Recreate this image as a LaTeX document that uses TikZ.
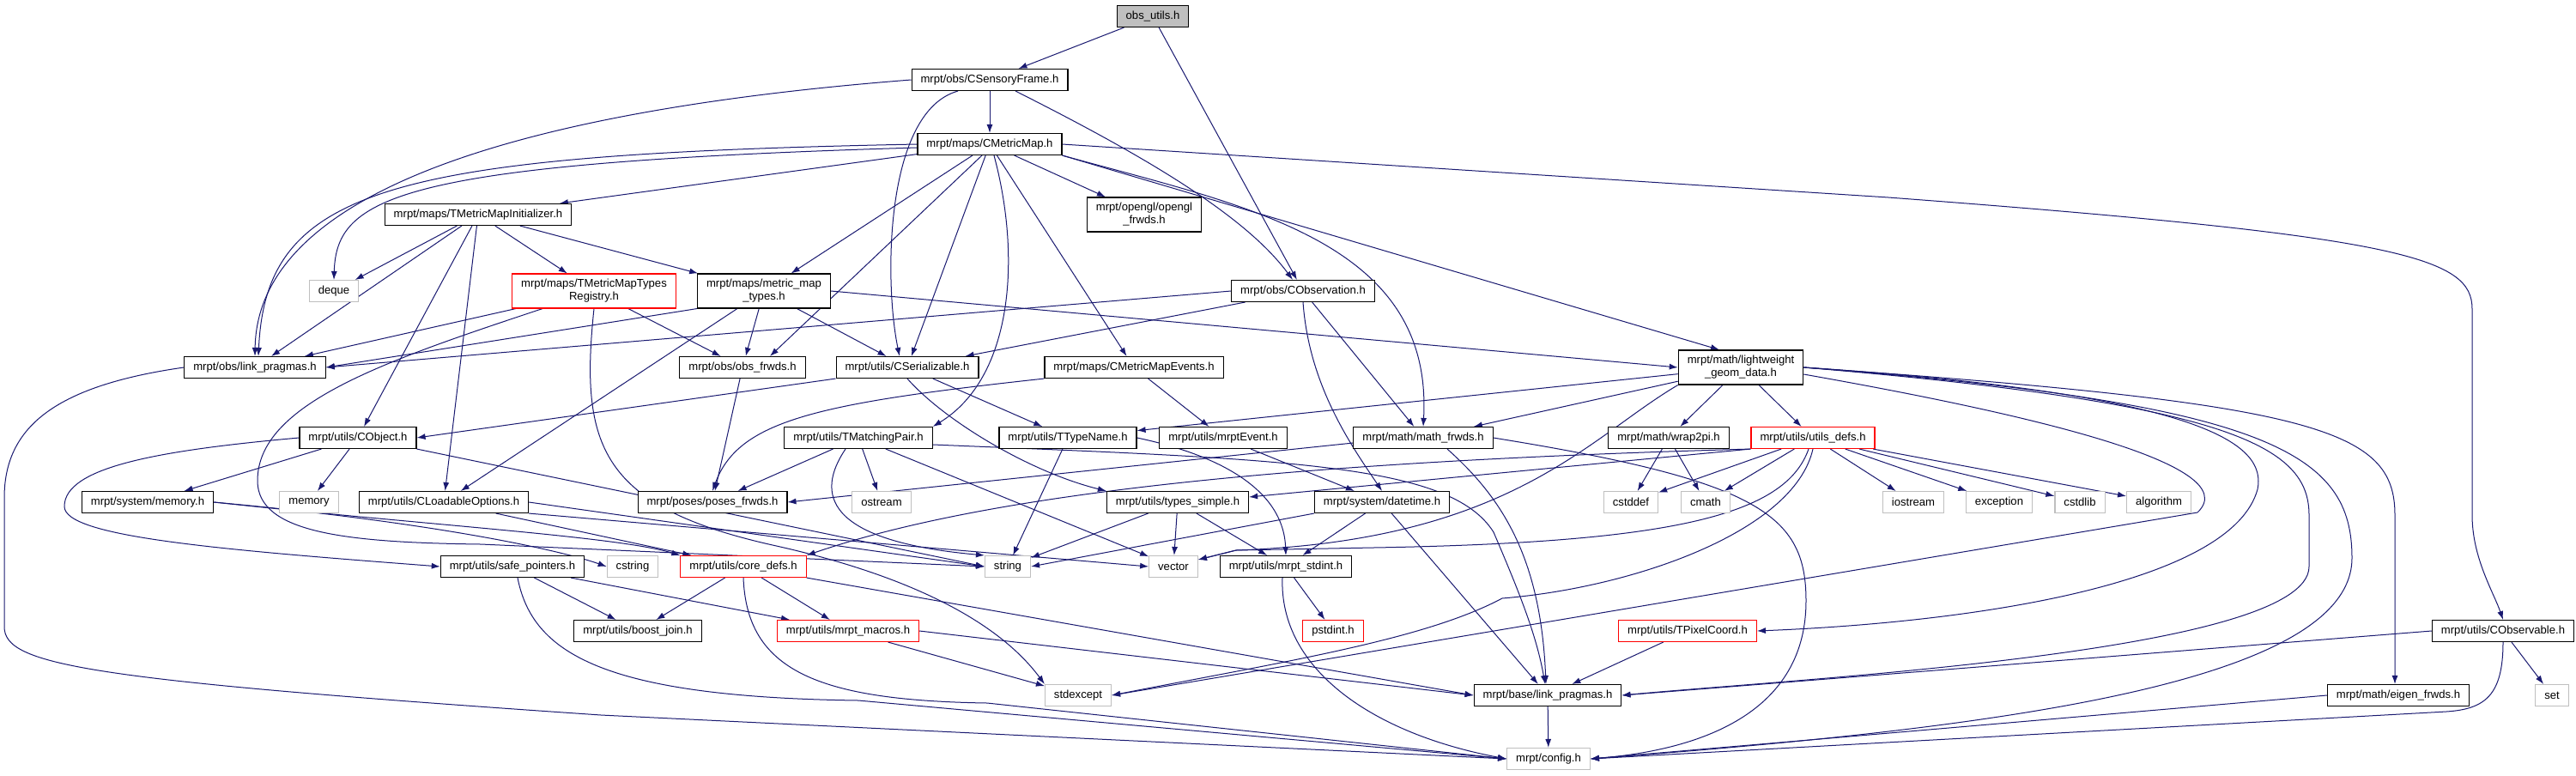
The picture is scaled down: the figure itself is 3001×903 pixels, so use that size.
\documentclass[tikz,border=0pt]{standalone}
\usepackage{fontspec}
\setmainfont{Liberation Sans}
\usetikzlibrary{arrows.meta}
\usetikzlibrary{backgrounds}
\definecolor{edgeblue}{HTML}{191970}
\definecolor{sysgray}{HTML}{BFBFBF}

\begin{document}
\begin{tikzpicture}[x=1pt,y=-1pt,
  hdr/.style={draw=black,line width=1.1pt,fill=white,font=\fontsize{13.1}{15}\selectfont,
    inner xsep=10.5pt,inner ysep=1pt,minimum height=25pt,align=center},
  twoline/.style={minimum height=40pt},
  sys/.style={hdr,draw=sysgray},
  cut/.style={hdr,draw=red},
  dep/.style={->,>={Latex[length=10pt,width=7pt]},draw=edgeblue,line width=1pt}]
\useasboundingbox (0,0) rectangle (3001,903);

% headers, row by row
\node[hdr,fill=sysgray] (obsutils) at (1343,19) {obs\_utils.h};
\node[hdr] (sframe) at (1153,93) {mrpt/obs/CSensoryFrame.h};
\node[hdr] (metricmap) at (1153,168) {mrpt/maps/CMetricMap.h};
\node[hdr] (mapinit) at (557,250) {mrpt/maps/TMetricMapInitializer.h};
\node[hdr,twoline] (glfrwds) at (1333,250) {mrpt/opengl/opengl\\\_frwds.h};
\node[sys] (deque) at (389,339) {deque};
\node[cut,twoline] (registry) at (692,339) {mrpt/maps/TMetricMapTypes\\Registry.h};
\node[hdr,twoline] (maptypes) at (890,339) {mrpt/maps/metric\_map\\\_types.h};
\node[hdr] (observation) at (1518,339) {mrpt/obs/CObservation.h};
\node[hdr] (obspragmas) at (297,428) {mrpt/obs/link\_pragmas.h};
\node[hdr] (obsfrwds) at (865,428) {mrpt/obs/obs\_frwds.h};
\node[hdr] (serializable) at (1057,428) {mrpt/utils/CSerializable.h};
\node[hdr] (mapevents) at (1321,428) {mrpt/maps/CMetricMapEvents.h};
\node[hdr,twoline] (geomdata) at (2028,428) {mrpt/math/lightweight\\\_geom\_data.h};
\node[hdr] (object) at (417,510) {mrpt/utils/CObject.h};
\node[hdr] (matching) at (1000,510) {mrpt/utils/TMatchingPair.h};
\node[hdr] (typename) at (1244,510) {mrpt/utils/TTypeName.h};
\node[hdr] (event) at (1425,510) {mrpt/utils/mrptEvent.h};
\node[hdr] (mathfrwds) at (1658,510) {mrpt/math/math\_frwds.h};
\node[hdr] (wrap) at (1944,510) {mrpt/math/wrap2pi.h};
\node[cut] (utilsdefs) at (2112,510) {mrpt/utils/utils\_defs.h};
\node[hdr] (sysmemory) at (172,585) {mrpt/system/memory.h};
\node[sys] (memory) at (360,585) {memory};
\node[hdr] (loadable) at (517,585) {mrpt/utils/CLoadableOptions.h};
\node[hdr] (posesfrwds) at (830,585) {mrpt/poses/poses\_frwds.h};
\node[sys] (ostream) at (1027,585) {ostream};
\node[hdr] (typessimple) at (1372,585) {mrpt/utils/types\_simple.h};
\node[hdr] (datetime) at (1610,585) {mrpt/system/datetime.h};
\node[sys] (cstddef) at (1900,585) {cstddef};
\node[sys] (cmath) at (1987,585) {cmath};
\node[sys] (iostream) at (2229,585) {iostream};
\node[sys] (exception) at (2329,585) {exception};
\node[sys] (cstdlib) at (2423,585) {cstdlib};
\node[sys] (algorithm) at (2515,585) {algorithm};
\node[hdr] (safeptr) at (597,660) {mrpt/utils/safe\_pointers.h};
\node[sys] (cstring) at (737,660) {cstring};
\node[cut] (coredefs) at (866,660) {mrpt/utils/core\_defs.h};
\node[sys] (string) at (1174,660) {string};
\node[sys] (vector) at (1367,660) {vector};
\node[hdr] (stdint) at (1498,660) {mrpt/utils/mrpt\_stdint.h};
\node[hdr] (boostjoin) at (743,735) {mrpt/utils/boost\_join.h};
\node[cut] (macros) at (988,735) {mrpt/utils/mrpt\_macros.h};
\node[cut] (pstdint) at (1553,735) {pstdint.h};
\node[cut] (pixel) at (1966,735) {mrpt/utils/TPixelCoord.h};
\node[hdr] (observable) at (2916,735) {mrpt/utils/CObservable.h};
\node[sys] (stdexcept) at (1256,810) {stdexcept};
\node[hdr] (basepragmas) at (1803,810) {mrpt/base/link\_pragmas.h};
\node[hdr] (eigen) at (2794,810) {mrpt/math/eigen\_frwds.h};
\node[sys] (set) at (2973,810) {set};
\node[sys] (config) at (1804,884) {mrpt/config.h};

\begin{scope}[on background layer]
\fill[white] (0,0) rectangle (3001,903);
% top of the graph
\draw[dep] (obsutils) -- (sframe);
\draw[dep] (obsutils) -- (observation);
\draw[dep] (sframe) -- (metricmap);
\draw[dep] (sframe.west) .. controls (650,125) and (300,210) .. (obspragmas.north);
\draw[dep] ([xshift=-37pt]sframe.south) .. controls (1030,130) and (1030,330) .. ([xshift=-9pt]serializable.north);
\draw[dep] ([xshift=30pt]sframe.south) .. controls (1330,180) and (1450,250) .. ([xshift=-12pt]observation.north);
\draw[dep] (metricmap.west) .. controls (450,180) and (310,220) .. ([xshift=4pt]obspragmas.north);
\draw[dep] ([yshift=-4pt]metricmap.west) .. controls (460,190) and (392,230) .. (deque.north);
\draw[dep] (metricmap) -- (mapinit);
\draw[dep] (metricmap) -- (maptypes);
\draw[dep] ([xshift=-9pt]metricmap.south) -- ([xshift=32pt]obsfrwds.north);
\draw[dep] (metricmap) -- (serializable);
\draw[dep] (metricmap) -- (mapevents);
\draw[dep] (metricmap) -- (glfrwds);
\draw[dep] (metricmap.south east) -- ([xshift=-25pt]geomdata.north);
\draw[dep] ([xshift=5pt]metricmap.south) .. controls (1190,300) and (1180,440) .. (matching.north east);
\draw[dep] (metricmap.south east) .. controls (1450,240) and (1670,280) .. (mathfrwds.north);
\draw[dep] (metricmap.east) -- (2200,230) .. controls (2800,275) and (2880,300) .. (2880,360)
  -- (2880,600) .. controls (2880,650) and (2905,690) .. (observable.north);
\draw[dep] (mapinit) -- (deque);
\draw[dep] (mapinit) -- (obspragmas);
\draw[dep] (mapinit) -- (object);
\draw[dep] (mapinit) -- (loadable);
\draw[dep] (mapinit) -- (registry);
\draw[dep] (mapinit) -- (maptypes);
\draw[dep] (registry) -- (obspragmas);
\draw[dep] (registry) -- (obsfrwds);
\draw[dep] ([xshift=-60pt]registry.south) .. controls (450,420) and (300,470) .. (300,560)
  .. controls (300,620) and (400,632) .. (560,634) -- (string.west);
\draw[dep] (registry.south) .. controls (675,520) and (700,590) .. (900,635)
  .. controls (1050,668) and (1160,720) .. (stdexcept.north west);
\draw[dep] (maptypes.south west) -- (obspragmas.east);
\draw[dep] (maptypes) -- (obsfrwds);
\draw[dep] (maptypes) -- (serializable);
\draw[dep] (maptypes.east) -- (geomdata.west);
\draw[dep] (maptypes) -- (loadable);
\draw[dep] (observation.west) -- (obspragmas.east);
\draw[dep] (observation) -- (serializable);
\draw[dep] (observation) -- (mathfrwds);
\draw[dep] (observation.south) .. controls (1525,450) and (1575,520) .. (datetime.north);
\draw[dep] (serializable.south west) -- (object.east);
\draw[dep] (serializable) -- (typename);
\draw[dep] (serializable.south) .. controls (1100,490) and (1200,550) .. (typessimple.north west);
\draw[dep] (mapevents.south west) .. controls (950,470) and (860,490) .. (posesfrwds.north);
\draw[dep] (mapevents) -- (event);
\draw[dep] (obsfrwds) -- (posesfrwds);
% lightweight_geom_data
\draw[dep] (geomdata) -- (typename);
\draw[dep] (geomdata) -- (mathfrwds);
\draw[dep] (geomdata) -- (wrap);
\draw[dep] (geomdata) -- (utilsdefs);
\draw[dep] (geomdata.south west) .. controls (1850,510) and (1760,630) .. (1440,641) -- ([yshift=8pt]vector.east);
\draw[dep] (geomdata.east) .. controls (2700,470) and (2790,500) .. (2790,600) -- ([xshift=-4pt]eigen.north);
\draw[dep] (geomdata.east) .. controls (2650,470) and (2740,530) .. (2740,650)
  .. controls (2740,800) and (2300,850) .. (config.east);
\draw[dep] (geomdata.east) .. controls (2600,470) and (2690,520) .. (2690,600)
  -- (2690,660) .. controls (2690,760) and (2100,790) .. (basepragmas.east);
\draw[dep] (geomdata.east) .. controls (2580,460) and (2640,520) .. (2630,570)
  .. controls (2600,680) and (2300,725) .. (pixel.east);
\draw[dep] ([yshift=-8pt]geomdata.east) .. controls (2350,480) and (2620,540) .. (2560,597) -- (stdexcept.east);
% utils_defs
\draw[dep] (utilsdefs) -- (cstddef);
\draw[dep] (utilsdefs) -- (cmath);
\draw[dep] (utilsdefs) -- (iostream);
\draw[dep] (utilsdefs) -- (exception);
\draw[dep] (utilsdefs) -- (cstdlib);
\draw[dep] (utilsdefs) -- (algorithm);
\draw[dep] (utilsdefs.south) .. controls (2090,620) and (1900,685) .. (1750,697)
  .. controls (1660,745) and (1500,770) .. (stdexcept.east);
\draw[dep] ([xshift=-5pt]utilsdefs.south) .. controls (2080,600) and (1950,632) .. (1600,638)
  -- (1440,641) -- ([yshift=8pt]vector.east);
\draw[dep] (utilsdefs.south west) -- ([yshift=6pt]typessimple.east);
\draw[dep] (utilsdefs.south west) .. controls (1500,538) and (1150,575) .. (coredefs.north east);
\draw[dep] (wrap) -- (cstddef);
\draw[dep] (wrap) -- (cmath);
% math_frwds, TTypeName, TMatchingPair
\draw[dep] ([yshift=-6pt]mathfrwds.west) -- (posesfrwds.east);
\draw[dep] ([xshift=28pt]mathfrwds.south) .. controls (1750,580) and (1795,650) .. ([xshift=-2pt]basepragmas.north);
\draw[dep] (mathfrwds.east) .. controls (2050,560) and (2104,600) .. (2104,700)
  .. controls (2104,820) and (2000,872) .. (config.east);
\draw[dep] (typename) -- (string);
\draw[dep] (typename.east) .. controls (1420,530) and (1495,570) .. (stdint.north);
\draw[dep] (matching) -- (posesfrwds);
\draw[dep] (matching) -- (ostream);
\draw[dep] (matching) -- (vector);
\draw[dep] ([xshift=-15pt]matching.south) .. controls (950,575) and (960,630) .. (string.north west);
\draw[dep] ([yshift=-8pt]matching.east) .. controls (1500,535) and (1690,540) .. (1740,620)
  .. controls (1770,690) and (1790,740) .. ([xshift=-3pt]basepragmas.north);
\draw[dep] (event) -- (datetime);
\draw[dep] (datetime) -- (basepragmas);
\draw[dep] (datetime) -- (stdint);
\draw[dep] (datetime.south west) -- (string.east);
\draw[dep] (typessimple) -- (string);
\draw[dep] (typessimple) -- (vector);
\draw[dep] (typessimple) -- (stdint);
\draw[dep] (stdint) -- (pstdint);
\draw[dep] ([xshift=-4pt]stdint.south) .. controls (1490,780) and (1600,855) .. (config.west);
% left part
\draw[dep] (object) -- (sysmemory);
\draw[dep] (object) -- (memory);
\draw[dep] (object.west) .. controls (180,525) and (75,545) .. (75,590)
  .. controls (75,625) and (250,640) .. (safeptr.west);
\draw[dep] (object.south east) -- (string.west);
\draw[dep] (sysmemory.east) .. controls (500,608) and (650,640) .. (cstring.west);
\draw[dep] (sysmemory.east) .. controls (500,612) and (720,625) .. (coredefs.north west);
\draw[dep] (loadable) -- (coredefs);
\draw[dep] (loadable.east) -- (string.west);
\draw[dep] (loadable.south east) -- (vector.west);
\draw[dep] (safeptr) -- (boostjoin);
\draw[dep] (safeptr) -- (macros);
\draw[dep] ([xshift=6pt]safeptr.south) .. controls (620,760) and (700,812) .. (1000,816) -- (config.west);
\draw[dep] (coredefs) -- (boostjoin);
\draw[dep] (coredefs) -- (macros);
\draw[dep] (coredefs.south east) -- (basepragmas.west);
\draw[dep] (coredefs.south) .. controls (870,780) and (950,816) .. (1150,819) -- (config.west);
\draw[dep] (macros) -- (stdexcept);
\draw[dep] (macros.east) -- (basepragmas.west);
\draw[dep] (obspragmas.west) .. controls (60,450) and (5,500) .. (5,580) -- (5,730)
  .. controls (5,775) and (100,792) .. (700,833) -- (config.west);
% bottom right
\draw[dep] (pixel) -- (basepragmas);
\draw[dep] (observable.west) -- (basepragmas.east);
\draw[dep] (observable) -- (set);
\draw[dep] (observable.south) .. controls (2916,810) and (2895,826) .. (2850,829) -- (config.east);
\draw[dep] (eigen.west) -- (config.east);
\draw[dep] (basepragmas) -- (config);
\end{scope}
\end{tikzpicture}
\end{document}
